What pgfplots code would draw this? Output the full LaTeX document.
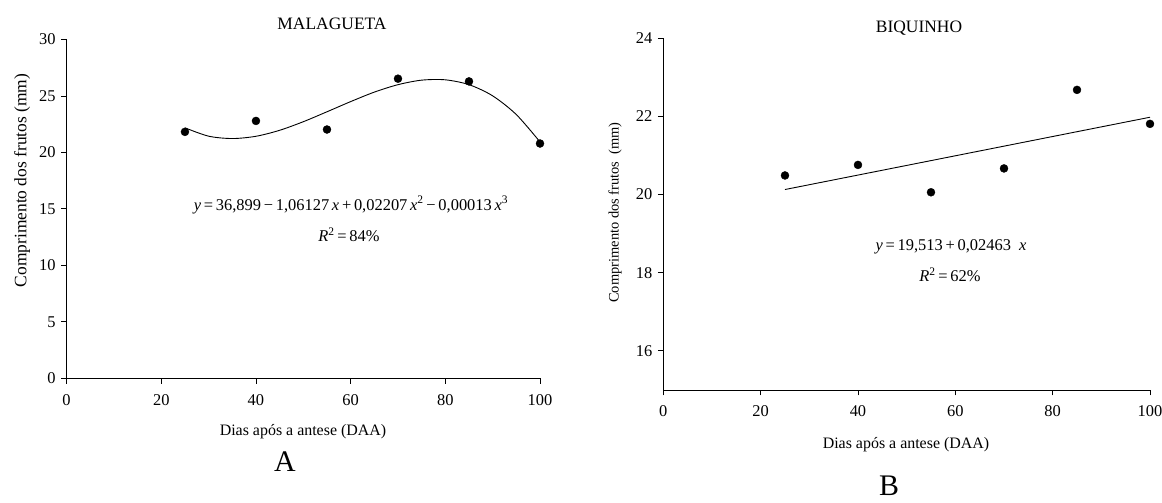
\documentclass[border=0pt]{standalone}
\usepackage{fontspec}
\setmainfont{Liberation Serif}
\usepackage{pgfplots}
\usepackage{pgfplotstable}
\pgfplotsset{compat=1.18}

\pgfplotstableread{
x y
25 21.82
40 22.79
55 22.03
70 26.53
85 26.29
100 20.79
}\malpts

\pgfplotstableread{
x y
25 22.18
30 21.44
35 21.23
40 21.43
45 21.96
50 22.72
55 23.60
60 24.50
65 25.34
70 26.00
75 26.40
80 26.43
85 26.00
90 25.01
95 23.35
100 20.93
}\malcurve

\pgfplotstableread{
x y
25 20.49
40 20.76
55 20.06
70 20.67
85 22.68
100 21.81
}\bipts

\pgfplotstableread{
x y
25 20.13
100 21.98
}\biline

\pgfplotsset{
  refstyle/.style={
    scale only axis,
    axis x line*=bottom, axis y line*=left,
    axis line style={-, line width=0.9bp, black},
    tick align=outside,
    major tick length=5.5bp,
    tick style={line width=0.9bp, black},
    xmin=0, xmax=100, xtick={0,20,...,100},
    ticklabel style={font=\fontsize{16.5}{18}\selectfont},
    xticklabel shift=7bp,
    yticklabel shift=2bp,
    /pgf/number format/assume math mode=true,
    clip=false,
  }
}

\begin{document}
\begin{tikzpicture}
\useasboundingbox (0,0) rectangle (1162bp,503bp);

\begin{axis}[refstyle, at={(66.6bp,124.7bp)}, anchor=south west,
  width=473.4bp, height=338.8bp, ymin=0, ymax=30, ytick={0,5,...,30}]
\addplot[black, line width=0.9bp, smooth, tension=0.5] table {\malcurve};
\addplot[only marks, mark=*, mark size=4bp, black] table {\malpts};
\end{axis}

\begin{axis}[refstyle, at={(663.3bp,113bp)}, anchor=south west,
  width=486.7bp, height=351.7bp, ymin=15, ymax=24, ytick={16,18,...,24}]
\addplot[black, line width=0.9bp] table {\biline};
\addplot[only marks, mark=*, mark size=4bp, black] table {\bipts};
\end{axis}

% titles
\node[font=\fontsize{17.5}{20}\selectfont] at (332bp,478.7bp) {MALAGUETA};
\node[font=\fontsize{17.5}{20}\selectfont] at (919bp,475bp) {BIQUINHO};
% y labels
\node[rotate=90, font=\fontsize{17.5}{20}\selectfont] at (22bp,322.5bp) {Comprimento dos frutos (mm)};
\node[rotate=90, font=\fontsize{14.5}{17}\selectfont] at (615bp,290.5bp) {Comprimento dos frutos\ \ (mm)};
% x labels
\node[font=\fontsize{16}{18}\selectfont] at (303bp,71bp) {Dias após a antese (DAA)};
\node[font=\fontsize{16}{18}\selectfont] at (906bp,58bp) {Dias após a antese (DAA)};
% panel letters
\node[font=\fontsize{30}{34}\selectfont] at (285bp,41bp) {A};
\node[font=\fontsize{30}{34}\selectfont] at (889bp,17bp) {B};
% equations
\node[font=\fontsize{16.5}{18}\selectfont] at (351bp,298bp) {\textit{y}\,=\,36,899\,−\,1,06127\,\textit{x}\,+\,0,02207\,\textit{x}\textsuperscript{2}\,−\,0,00013\,\textit{x}\textsuperscript{3}};
\node[font=\fontsize{16.5}{18}\selectfont] at (349bp,268bp) {\textit{R}\textsuperscript{2}\,=\,84\%};
\node[font=\fontsize{16.5}{18}\selectfont] at (951bp,256bp) {\textit{y}\,=\,19,513\,+\,0,02463\ \ \textit{x}};
\node[font=\fontsize{16.5}{18}\selectfont] at (950bp,228bp) {\textit{R}\textsuperscript{2}\,=\,62\%};
\end{tikzpicture}
\end{document}
